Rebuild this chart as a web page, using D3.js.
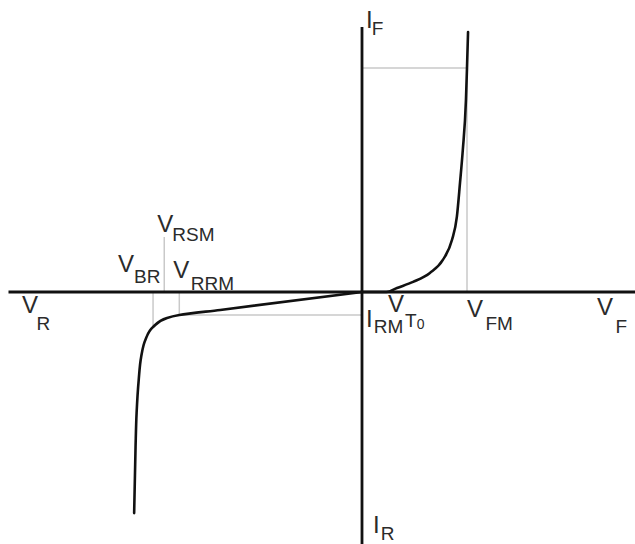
<!DOCTYPE html>
<html>
<head>
<meta charset="utf-8">
<script src="https://cdn.jsdelivr.net/npm/d3@7"></script>
<style>
  html, body { margin: 0; padding: 0; background: #fff; }
  svg { display: block; }
  text { font-family: "Liberation Sans", Arial, sans-serif; fill: #2b2b2b; }
</style>
</head>
<body>
<svg id="chart" width="635" height="544"></svg>
<script>
// Diode I–V characteristic (arbitrary units)

// Forward branch: voltage and current
const forwardV = [0, 0.7, 1.0, 1.46, 1.94, 2.31, 2.57, 2.71, 2.80, 2.88, 2.97, 3.0, 3.03];
const forwardI = [0, 0, 0.18, 0.45, 0.85, 1.43, 2.32, 3.35, 4.87, 6.34, 8.57, 10, 11.6];

// Reverse branch: voltage and current
const reverseV = [0, -4.05, -5.22, -5.57, -5.97, -6.19, -6.31, -6.38, -6.44, -6.47, -6.51];
const reverseI = [0, -0.80, -1.03, -1.16, -1.56, -2.14, -2.9, -3.93, -5.4, -6.92, -9.87];

// Characteristic points
const VT0 = 0.7;
const VFM = 3.0;
const IFM = 10;
const VRRM = -5.22;
const VRSM = -5.65;
const VBR = -5.97;
const IBR = -1.56;
const IRM = 1.03;
const VRSMlead = 2.46;

// Axis extents
const vRange = [-10, 7.8];
const iRange = [-11.25, 11.83];

const svg = d3.select("#chart");

const x = d3.scaleLinear().domain(vRange).range([12, 635]);
const y = d3.scaleLinear().domain(iRange).range([544, 27]);

const guide = svg.append("g")
  .attr("stroke", "#c9c9c9")
  .attr("stroke-width", 1.5)
  .attr("fill", "none");

// Forward maximum: IFM level and VFM drop
guide.append("line").attr("x1", x(0)).attr("x2", x(VFM)).attr("y1", y(IFM)).attr("y2", y(IFM));
guide.append("line").attr("x1", x(VFM)).attr("x2", x(VFM)).attr("y1", y(0)).attr("y2", y(IFM));
// Reverse markers
guide.append("line").attr("x1", x(VRSM)).attr("x2", x(VRSM)).attr("y1", y(0)).attr("y2", y(VRSMlead));
guide.append("line").attr("x1", x(VBR)).attr("x2", x(VBR)).attr("y1", y(0)).attr("y2", y(IBR));
guide.append("line").attr("x1", x(VRRM)).attr("x2", x(VRRM)).attr("y1", y(0)).attr("y2", y(-IRM));
guide.append("line").attr("x1", x(VRRM)).attr("x2", x(0)).attr("y1", y(-IRM)).attr("y2", y(-IRM));

// Axes through the origin
const axes = svg.append("g").attr("stroke", "#111").attr("stroke-width", 2.8);
axes.append("line").attr("x1", x(-10.1)).attr("x2", x(vRange[1])).attr("y1", y(0)).attr("y2", y(0));
axes.append("line").attr("x1", x(0)).attr("x2", x(0)).attr("y1", y(iRange[1])).attr("y2", y(iRange[0]));

// Characteristic curve: forward is monotone in V, reverse is monotone in I
const fwd = forwardV.map((v, i) => [v, forwardI[i]]);
const rev = reverseV.map((v, i) => [v, reverseI[i]]).reverse();

const fwdLine = d3.line().x(d => x(d[0])).y(d => y(d[1])).curve(d3.curveMonotoneX);
const revLine = d3.line().x(d => x(d[0])).y(d => y(d[1])).curve(d3.curveMonotoneY);

const curve = svg.append("g")
  .attr("fill", "none")
  .attr("stroke", "#111")
  .attr("stroke-width", 2.6)
  .attr("stroke-linejoin", "round")
  .attr("stroke-linecap", "round");
curve.append("path").attr("d", fwdLine(fwd));
curve.append("path").attr("d", revLine(rev));

// Labels: main symbol with subscript, placed relative to the scales
const y0 = y(0);
const labels = [
  { t: "V", s: "R",   x: x(vRange[0]) + 10, y: y0 + 21, sdx: -1.5, sdy: 17 },
  { t: "V", s: "BR",  x: x(VBR) - 35,       y: y0 - 20, sdx: 0,    sdy: 11 },
  { t: "V", s: "RSM", x: x(VRSM) - 7,       y: y0 - 60, sdx: -1,   sdy: 9 },
  { t: "V", s: "RRM", x: x(VRRM) - 6,       y: y0 - 14, sdx: 1.5,  sdy: 12 },
  { t: "I", s: "RM",  x: x(0) + 4,          y: y0 + 35, sdx: 1,    sdy: 6 },
  { t: "V", s: "FM",  x: x(VFM),            y: y0 + 25, sdx: 2.5,  sdy: 13 },
  { t: "V", s: "F",   x: x(vRange[1]) - 38, y: y0 + 23, sdx: 2.5,  sdy: 18 },
  { t: "I", s: "F",   x: x(0) + 4,          y: y(iRange[1]) + 1, sdx: -1, sdy: 7 },
  { t: "I", s: "R",   x: x(0) + 11,         y: y(iRange[0]) - 11, sdx: 1, sdy: 7 }
];

const lab = svg.append("g");
labels.forEach(l => {
  const t = lab.append("text").attr("x", l.x).attr("y", l.y).style("font-size", "24px");
  t.append("tspan").text(l.t);
  t.append("tspan").attr("dx", l.sdx).attr("dy", l.sdy).style("font-size", "19px").text(l.s);
});

// Threshold voltage V_T0 (double subscript)
const tl = lab.append("text").attr("x", x(VT0) + 1.5).attr("y", y0 + 20).style("font-size", "24px");
tl.append("tspan").text("V");
tl.append("tspan").attr("dx", 1).attr("dy", 15).style("font-size", "19px").text("T");
tl.append("tspan").attr("dx", 0).attr("dy", 2).style("font-size", "14px").text("0");
</script>
</body>
</html>
